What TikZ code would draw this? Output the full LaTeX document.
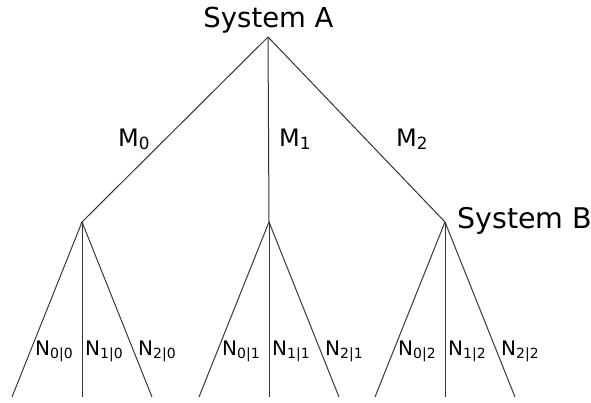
\documentclass[tikz,border=0pt]{standalone}
\usepackage{fontspec}
\setmainfont{DejaVu Sans}
\begin{document}
\begin{tikzpicture}[x=1pt,y=-1pt,
  edge/.style={draw=black!80,line width=1pt},
  sys/.style={font=\fontsize{27.5}{30}\selectfont,inner sep=0pt},
  mlab/.style={font=\fontsize{24}{28}\selectfont,inner sep=0pt,anchor=base west},
  nlab/.style={font=\fontsize{20}{24}\selectfont,inner sep=0pt,anchor=base west}]
\useasboundingbox (0,0) rectangle (591,402);
\coordinate (root) at (268,37);
\coordinate (b0) at (82,222);
\coordinate (b1) at (269,222);
\coordinate (b2) at (445,222);
\foreach \b/\x in {0/82,1/269,2/445}{
  \coordinate (l\b0) at (\x-70,397);
  \coordinate (l\b1) at (\x,397);
  \coordinate (l\b2) at (\x+70,397);
}
\draw[edge] (root) -- (b0);
\draw[edge] (root) -- (b1);
\draw[edge] (root) -- (b2);
\foreach \b in {0,1,2}{
  \draw[edge] (b\b) -- (l\b0);
  \draw[edge] (b\b) -- (l\b1);
  \draw[edge] (b\b) -- (l\b2);
}
\node[sys,anchor=base] (sa) at (268.5,27) {System A};
\node[sys,anchor=base west,font=\fontsize{28.5}{30}\selectfont] (sb) at (457,228) {System B};
\node[mlab] (m0) at (118,146) {M\textsubscript{0}};
\node[mlab] (m1) at (279,146) {M\textsubscript{1}};
\node[mlab] (m2) at (396,146) {M\textsubscript{2}};
\foreach \b/\x in {0/82,1/269,2/445}{
  \node[nlab] (n0\b) at (\x-47,355) {N\textsubscript{0|\b}};
  \node[nlab] (n1\b) at (\x+3,355) {N\textsubscript{1|\b}};
  \node[nlab] (n2\b) at (\x+56,355) {N\textsubscript{2|\b}};
}
\end{tikzpicture}
\end{document}
